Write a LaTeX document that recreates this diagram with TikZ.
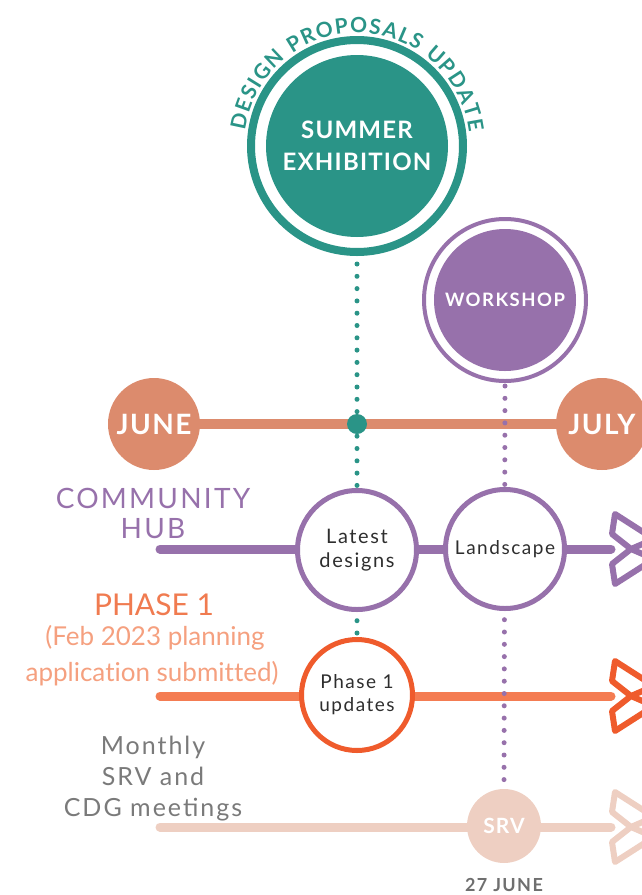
\documentclass[tikz,border=0pt]{standalone}
\usepackage{fontspec}
\setmainfont{Lato}[Ligatures=NoCommon]
\newfontfamily\lta[LetterSpace=8]{Lato}
\newfontfamily\ltc[LetterSpace=5]{Lato}
\usetikzlibrary{decorations.text}
\definecolor{teal1}{HTML}{2A9487}
\definecolor{salmon}{HTML}{DC8B6D}
\definecolor{purp}{HTML}{9771AB}
\definecolor{orline}{HTML}{F47C52}
\definecolor{orcirc}{HTML}{EF5B2C}
\definecolor{phasetxt}{HTML}{F07B50}
\definecolor{subtxt}{HTML}{F5A07F}
\definecolor{peach}{HTML}{EECFC2}
\definecolor{greytxt}{HTML}{7A7A7A}
\definecolor{darktxt}{HTML}{2E2E2E}
\definecolor{datetxt}{HTML}{6F6F6F}
\pgfdeclarelayer{bg}
\pgfdeclarelayer{mid}
\pgfsetlayers{bg,mid,main}
\tikzset{
  hline/.style={line width=9pt, line cap=round},
  dotline/.style={line width=5pt, line cap=round, dash pattern=on 0pt off 12.3pt},
  ring/.style={circle, inner sep=0pt, fill=white},
  filled/.style={circle, inner sep=0pt, text=white, align=center},
  lbl/.style={inner sep=0pt, anchor=base},
  chev/.pic={
    \draw[line width=6pt, line join=round, fill=white] (1,-35) -- (40,-10) -- (17,0) -- (-2,-15) -- cycle;
    \draw[line width=6pt, line join=round, fill=white] (1,35) -- (40,10) -- (17,0) -- (-2,15) -- cycle;
  }
}
\begin{document}
\begin{tikzpicture}[x=1pt,y=-1pt]
\useasboundingbox (0,0) rectangle (642,895);
% big circles
\node[ring, draw=teal1, line width=8pt, minimum size=212pt] (Sring) at (357,146) {};
\node[filled, fill=teal1, minimum size=182pt, font=\ltc\bfseries\fontsize{24}{32}\selectfont] (S) at (Sring.center) {SUMMER\\EXHIBITION};
\path[decorate, decoration={text along path, text={|\ltc\bfseries\fontsize{21}{21}\selectfont|DESIGN PROPOSALS UPDATE}, text color=teal1, text align=fit to path}]
  ([shift={(172:113pt)}]Sring.center) arc[start angle=172, end angle=7, radius=113pt];
\node[ring, draw=purp, line width=4pt, minimum size=162pt] (Wring) at (505,300) {};
\node[filled, fill=purp, minimum size=142pt, font=\lta\bfseries\fontsize{18.5}{20}\selectfont] (W) at (Wring.center) {WORKSHOP};
% month circles
\node[filled, fill=salmon, minimum size=92pt, font=\ltc\bfseries\fontsize{28}{28}\selectfont] (June) at (154,424) {JUNE};
\node[filled, fill=salmon, minimum size=92pt, font=\ltc\bfseries\fontsize{28}{28}\selectfont] (July) at (602,424) {JULY};
\node[circle, fill=teal1, minimum size=20pt, inner sep=0pt] (TD) at (357,424) {};
% stage circles
\node[ring, draw=purp, line width=5pt, minimum size=119pt, align=center, text=darktxt, font=\lta\fontsize{20}{24}\selectfont] (LD) at (357,550) {Latest\\designs};
\node[ring, draw=purp, line width=5pt, minimum size=119pt, align=center, text=darktxt, font=\lta\fontsize{19}{24}\selectfont] (LS) at (505,549) {Landscape};
\node[ring, draw=orcirc, line width=5pt, minimum size=111pt, align=center, text=darktxt, font=\lta\fontsize{19}{23}\selectfont] (P1) at (357,695) {Phase 1\\updates};
\node[filled, fill=peach, minimum size=74pt, font=\ltc\bfseries\fontsize{21}{21}\selectfont] (SRV) at (504,826) {SRV};
% line endpoints
\coordinate (CHs) at (160,549); \coordinate (CHe) at (611,549); \coordinate (CHa) at (614,549);
\coordinate (PHs) at (160,696); \coordinate (PHe) at (611,696); \coordinate (PHa) at (614,696);
\coordinate (SRs) at (160,827); \coordinate (SRe) at (611,827); \coordinate (SRa) at (614,827);
\begin{pgfonlayer}{bg}
  \draw[hline, salmon, line width=10pt] (June) -- (July);
  \draw[hline, purp] (CHs) -- (CHe);
  \draw[hline, orline] (PHs) -- (PHe);
  \draw[hline, peach] (SRs) -- (SRe);
\end{pgfonlayer}
\begin{pgfonlayer}{mid}
  \draw[dotline, teal1] ([yshift=-8pt]Sring.south) -- (P1.north);
  \draw[dotline, purp] ([yshift=-3pt]Wring.south) -- (SRV.north);
\end{pgfonlayer}
% arrow heads
\pic[color=purp] at (CHa) {chev};
\pic[color=orcirc] at (PHa) {chev};
\pic[color=peach] at (SRa) {chev};
% labels
\node[lbl, text=purp, font=\lta\fontsize{28}{30}\selectfont] (com1) at (153,508) {COMMUNITY};
\node[lbl, text=purp, font=\lta\fontsize{28}{30}\selectfont] (com2) at (153,538) {HUB};
\node[lbl, text=phasetxt, font=\fontsize{30}{30}\selectfont] (ph1) at (154,615) {PHASE 1};
\node[lbl, text=subtxt, font=\fontsize{26}{26}\selectfont] (ph2) at (155,645) {(Feb 2023 planning};
\node[lbl, text=subtxt, font=\fontsize{26}{26}\selectfont] (ph3) at (152,681) {application submitted)};
\node[lbl, text=greytxt, font=\lta\fontsize{25}{25}\selectfont] (m1) at (153,754) {Monthly};
\node[lbl, text=greytxt, font=\lta\fontsize{25}{25}\selectfont] (m2) at (153,785) {SRV and};
\node[lbl, text=greytxt, font=\lta\fontsize{25}{25}\selectfont] (m3) at (153,816) {CDG meetings};
\node[lbl, text=datetxt, font=\lta\bfseries\fontsize{18}{18}\selectfont] (date) at (504,891) {27 JUNE};
\end{tikzpicture}
\end{document}
